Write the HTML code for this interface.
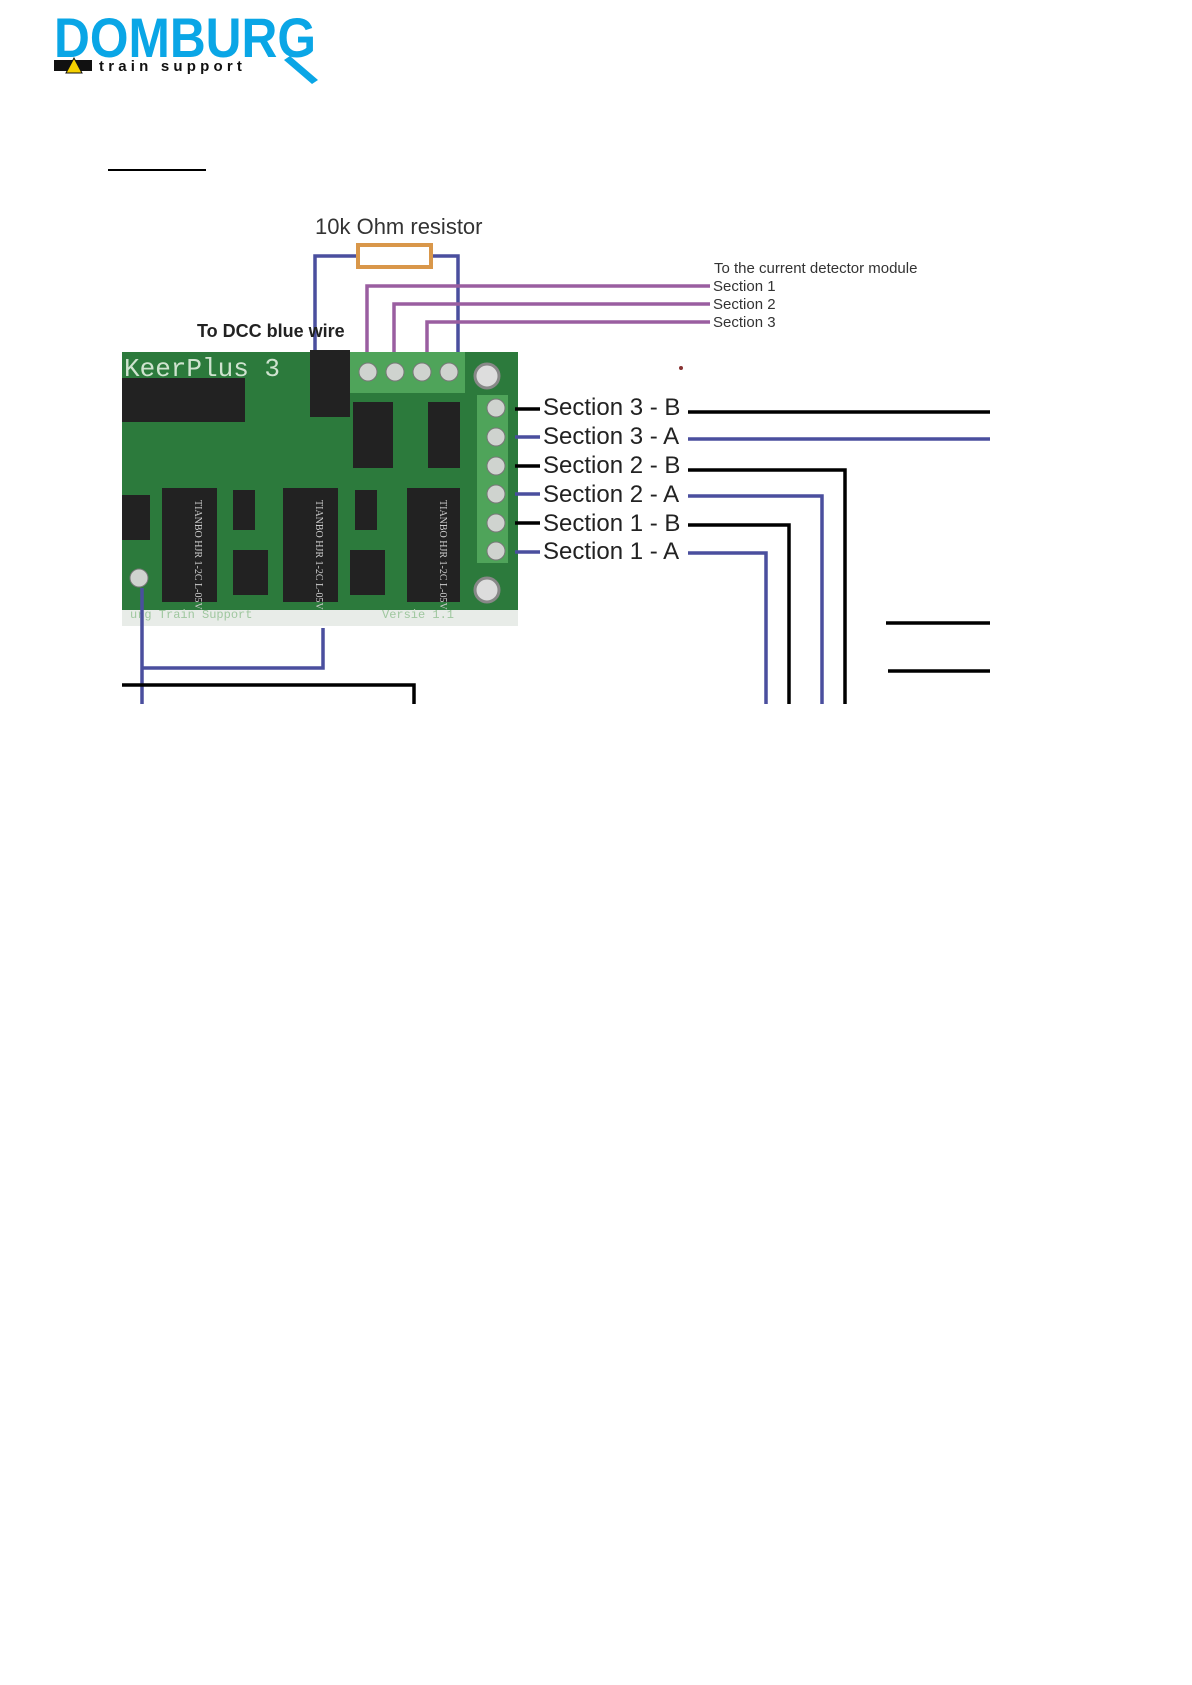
<!DOCTYPE html>
<html><head><meta charset="utf-8"><style>
html,body{margin:0;padding:0;background:#fff;}
body{width:1192px;height:1685px;position:relative;overflow:hidden;font-family:"Liberation Sans",sans-serif;}
</style></head><body>
<svg width="1192" height="1685" viewBox="0 0 1192 1685" xmlns="http://www.w3.org/2000/svg" style="position:absolute;left:0;top:0">
<!-- logo -->
<text x="54" y="57" font-family="Liberation Sans" font-weight="bold" font-size="56" fill="#0aa6e6" textLength="262" lengthAdjust="spacingAndGlyphs">DOMBURG</text>
<path d="M290 56 L318 80 L312 84 L284 60 Z" fill="#0aa6e6"/>
<rect x="54" y="60" width="38" height="11" fill="#111"/>
<polygon points="66,73 74,58 82,73" fill="#f5d000" stroke="#111" stroke-width="1"/>
<text x="99" y="71" font-family="Liberation Sans" font-weight="bold" font-size="15" fill="#111" letter-spacing="4.2">train support</text>
<!-- underline -->
<rect x="108" y="169" width="98" height="2" fill="#000"/>
<!-- labels top -->
<text x="315" y="234" font-size="22" fill="#333" font-family="Liberation Sans">10k Ohm resistor</text>
<rect x="358" y="245" width="73" height="22" fill="#fff" stroke="#d9974a" stroke-width="4"/>
<g stroke="#4a4f9e" stroke-width="3.5" fill="none">
<polyline points="356,256 315,256 315,380"/>
<polyline points="433,256 458,256 458,360"/>
</g>
<g stroke="#9a5ea0" stroke-width="3.5" fill="none">
<polyline points="710,286 367,286 367,360"/>
<polyline points="710,304 394,304 394,360"/>
<polyline points="710,322 427,322 427,360"/>
</g>
<g font-size="15" fill="#333" font-family="Liberation Sans">
<text x="714" y="273">To the current detector module</text>
<text x="713" y="291">Section 1</text>
<text x="713" y="309">Section 2</text>
<text x="713" y="327">Section 3</text>
</g>
<text x="197" y="337" font-size="18" font-weight="bold" fill="#222" font-family="Liberation Sans">To DCC blue wire</text>
<!-- board -->
<rect x="122" y="352" width="396" height="266" fill="#2c7a3c"/>
<rect x="122" y="610" width="396" height="16" fill="#e8ece8"/>
<rect x="350" y="352" width="115" height="41" fill="#4fa45a"/>
<rect x="477" y="395" width="31" height="168" fill="#4fa45a"/>
<g fill="#cfd3cf" stroke="#777" stroke-width="1">
<circle cx="368" cy="372" r="9"/><circle cx="395" cy="372" r="9"/><circle cx="422" cy="372" r="9"/><circle cx="449" cy="372" r="9"/>
<circle cx="496" cy="408" r="9"/><circle cx="496" cy="437" r="9"/><circle cx="496" cy="466" r="9"/><circle cx="496" cy="494" r="9"/><circle cx="496" cy="523" r="9"/><circle cx="496" cy="551" r="9"/>
<circle cx="139" cy="578" r="9"/>
</g>
<circle cx="487" cy="376" r="12" fill="#ddd" stroke="#888" stroke-width="3"/>
<circle cx="487" cy="590" r="12" fill="#ddd" stroke="#888" stroke-width="3"/>
<text x="124" y="376" font-size="26" fill="#cfe3cf" font-family="Liberation Mono">KeerPlus 3</text>
<rect x="122" y="378" width="123" height="44" fill="#222"/>
<g fill="#222">
<rect x="310" y="350" width="40" height="67"/>
<rect x="353" y="402" width="40" height="66"/>
<rect x="428" y="402" width="32" height="66"/>
<rect x="162" y="488" width="55" height="114"/>
<rect x="283" y="488" width="55" height="114"/>
<rect x="407" y="488" width="53" height="114"/>
<rect x="122" y="495" width="28" height="45"/>
<rect x="233" y="490" width="22" height="40"/>
<rect x="355" y="490" width="22" height="40"/>
<rect x="233" y="550" width="35" height="45"/>
<rect x="350" y="550" width="35" height="45"/>
</g>
<g fill="#ccc" font-size="10" font-family="Liberation Serif">
<text transform="translate(195,500) rotate(90)">TIANBO HJR 1-2C L-05V</text>
<text transform="translate(316,500) rotate(90)">TIANBO HJR 1-2C L-05V</text>
<text transform="translate(440,500) rotate(90)">TIANBO HJR 1-2C L-05V</text>
</g>
<text x="130" y="618" font-size="12" fill="#9fc79f" font-family="Liberation Mono">urg Train Support</text>
<text x="382" y="618" font-size="12" fill="#9fc79f" font-family="Liberation Mono">Versie 1.1</text>
<!-- section labels -->
<g font-size="24" fill="#222" font-family="Liberation Sans">
<text x="543" y="415">Section 3 - B</text>
<text x="543" y="444">Section 3 - A</text>
<text x="543" y="473">Section 2 - B</text>
<text x="543" y="502">Section 2 - A</text>
<text x="543" y="531">Section 1 - B</text>
<text x="543" y="559">Section 1 - A</text>
</g>
<g stroke-width="3.5" fill="none">
<line x1="515" y1="409" x2="540" y2="409" stroke="#000"/>
<line x1="515" y1="437" x2="540" y2="437" stroke="#4a4f9e"/>
<line x1="515" y1="466" x2="540" y2="466" stroke="#000"/>
<line x1="515" y1="494" x2="540" y2="494" stroke="#4a4f9e"/>
<line x1="515" y1="523" x2="540" y2="523" stroke="#000"/>
<line x1="515" y1="552" x2="540" y2="552" stroke="#4a4f9e"/>
<line x1="688" y1="412" x2="990" y2="412" stroke="#000"/>
<line x1="688" y1="439" x2="990" y2="439" stroke="#4a4f9e"/>
<polyline points="688,470 845,470 845,704" stroke="#000"/>
<polyline points="688,496 822,496 822,704" stroke="#4a4f9e"/>
<polyline points="688,525 789,525 789,704" stroke="#000"/>
<polyline points="688,553 766,553 766,704" stroke="#4a4f9e"/>
<line x1="886" y1="623" x2="990" y2="623" stroke="#000"/>
<line x1="888" y1="671" x2="990" y2="671" stroke="#000"/>
<line x1="142" y1="588" x2="142" y2="704" stroke="#4a4f9e"/>
<polyline points="142,668 323,668 323,628" stroke="#4a4f9e"/>
<polyline points="122,685 414,685 414,704" stroke="#000"/>
</g>
<circle cx="681" cy="368" r="2" fill="#833"/>
</svg>
</body></html>
